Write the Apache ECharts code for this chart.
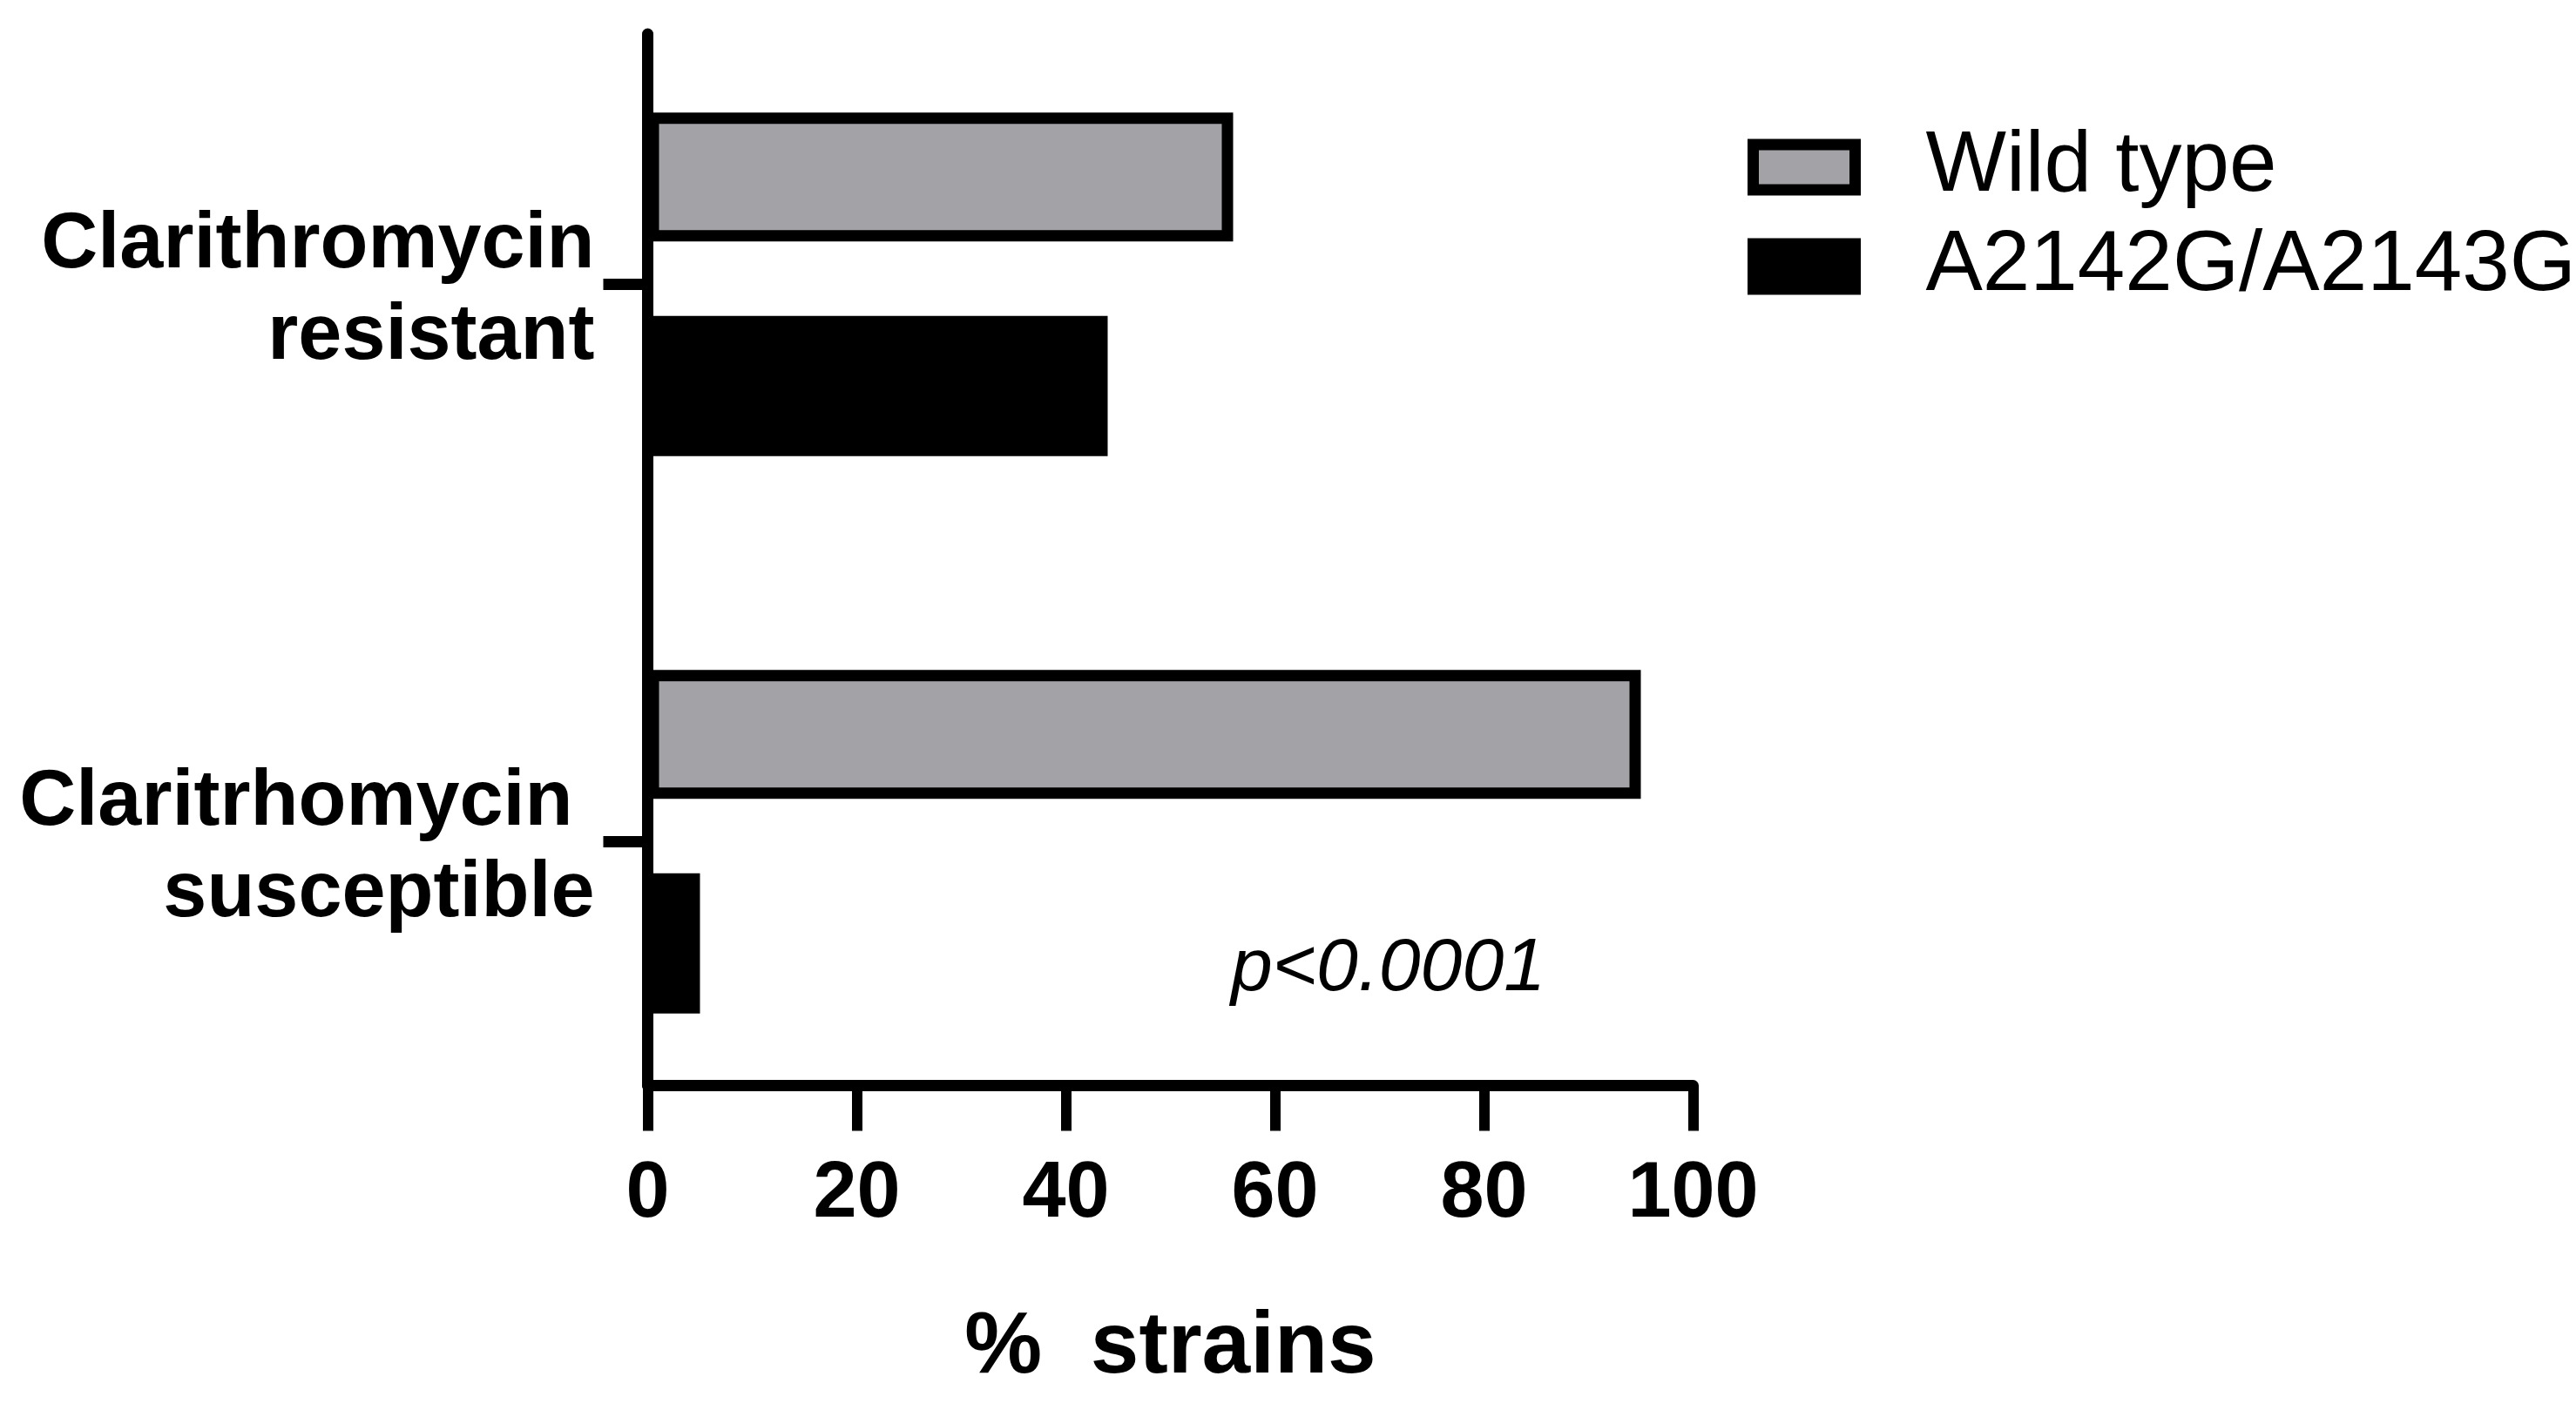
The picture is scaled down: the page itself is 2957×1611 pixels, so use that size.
<!DOCTYPE html>
<html>
<head>
<meta charset="utf-8">
<title>Strains by clarithromycin susceptibility</title>
<script src="https://cdn.jsdelivr.net/npm/echarts@6.0.0/dist/echarts.min.js"></script>
<style>
  html, body { margin: 0; padding: 0; background: #fff; }
  #main { width: 2957px; height: 1611px; }
</style>
</head>
<body>
<div id="main"></div>
<script>
var categories = ['Clarithromycin\nresistant', 'Claritrhomycin \nsusceptible'];
var seriesNames = ['Wild type', 'A2142G/A2143G'];
var wildType = [56, 95];
var mutant = [44, 5];
var xTicks = { min: 0, max: 100, interval: 20 };
var pValueText = 'p<0.0001';

var font = "'Liberation Sans', Arial, sans-serif";
var grey = '#a3a2a7';

var chartDom = document.getElementById('main');
var myChart = echarts.init(chartDom, null, { renderer: 'canvas' });
var option;

// small blank line on top nudges the two-line label down a little
function categoryLabel(value) {
  var lines = value.split('\n').map(function (s) { return '{b|' + s + '}'; });
  return '{s| }\n' + lines.join('\n');
}

option = {
  animation: false,
  backgroundColor: '#fff',
  title: {
    text: pValueText,
    left: 1413,
    top: 1070,
    padding: 0,
    textStyle: {
      fontFamily: font,
      fontSize: 86,
      fontStyle: 'italic',
      fontWeight: 'normal',
      color: '#000'
    }
  },
  legend: {
    orient: 'vertical',
    left: 2006,
    top: 143,
    padding: 0,
    itemGap: 16,
    itemWidth: 117,
    itemHeight: 52,
    icon: 'rect',
    itemStyle: { borderColor: '#000', borderWidth: 13 },
    data: seriesNames,
    textStyle: {
      fontFamily: font,
      fontSize: 98,
      color: '#000',
      padding: [0, 0, 0, 76]
    }
  },
  grid: [
    // visible frame: the two axis lines and the x ticks
    { left: 743.5, right: 1013.5, top: 39, bottom: 364.5 },
    // bar grid: category bands centred on the y ticks
    { left: 743.5, right: 1013.5, top: 6.5, bottom: 324.5 }
  ],
  xAxis: [
    {
      gridIndex: 0,
      type: 'value',
      min: xTicks.min,
      max: xTicks.max,
      interval: xTicks.interval,
      splitLine: { show: false },
      axisLine: { show: true, lineStyle: { color: '#000', width: 13 } },
      axisTick: { show: true, length: 52, lineStyle: { color: '#000', width: 12 } },
      axisLabel: {
        margin: 81,
        fontFamily: font,
        fontSize: 90,
        fontWeight: 'bold',
        color: '#000'
      },
      name: '%  strains',
      nameLocation: 'middle',
      nameGap: 252,
      nameTextStyle: {
        fontFamily: font,
        fontSize: 100,
        fontWeight: 'bold',
        color: '#000'
      }
    },
    {
      gridIndex: 1,
      type: 'value',
      min: xTicks.min,
      max: xTicks.max,
      show: false
    }
  ],
  yAxis: [
    {
      gridIndex: 0,
      type: 'category',
      data: categories,
      inverse: true,
      axisLine: { show: true, lineStyle: { color: '#000', width: 13 } },
      axisTick: { show: false },
      axisLabel: { show: false }
    },
    {
      gridIndex: 1,
      type: 'category',
      data: categories,
      inverse: true,
      axisLine: { show: false },
      axisTick: {
        show: true,
        alignWithLabel: true,
        length: 51,
        lineStyle: { color: '#000', width: 13 }
      },
      axisLabel: {
        margin: 61,
        formatter: categoryLabel,
        rich: {
          s: { fontSize: 10, lineHeight: 16 },
          b: {
            fontFamily: font,
            fontSize: 90,
            fontWeight: 'bold',
            lineHeight: 105,
            color: '#000'
          }
        }
      }
    }
  ],
  series: [
    {
      name: seriesNames[0],
      type: 'bar',
      xAxisIndex: 1,
      yAxisIndex: 1,
      barWidth: 148,
      barGap: '57.8%',
      itemStyle: { color: grey, borderColor: '#000', borderWidth: 13 },
      data: wildType
    },
    {
      name: seriesNames[1],
      type: 'bar',
      xAxisIndex: 1,
      yAxisIndex: 1,
      barWidth: 161,
      itemStyle: { color: '#000', borderWidth: 0 },
      data: mutant
    }
  ]
};

option && myChart.setOption(option);
</script>
</body>
</html>
